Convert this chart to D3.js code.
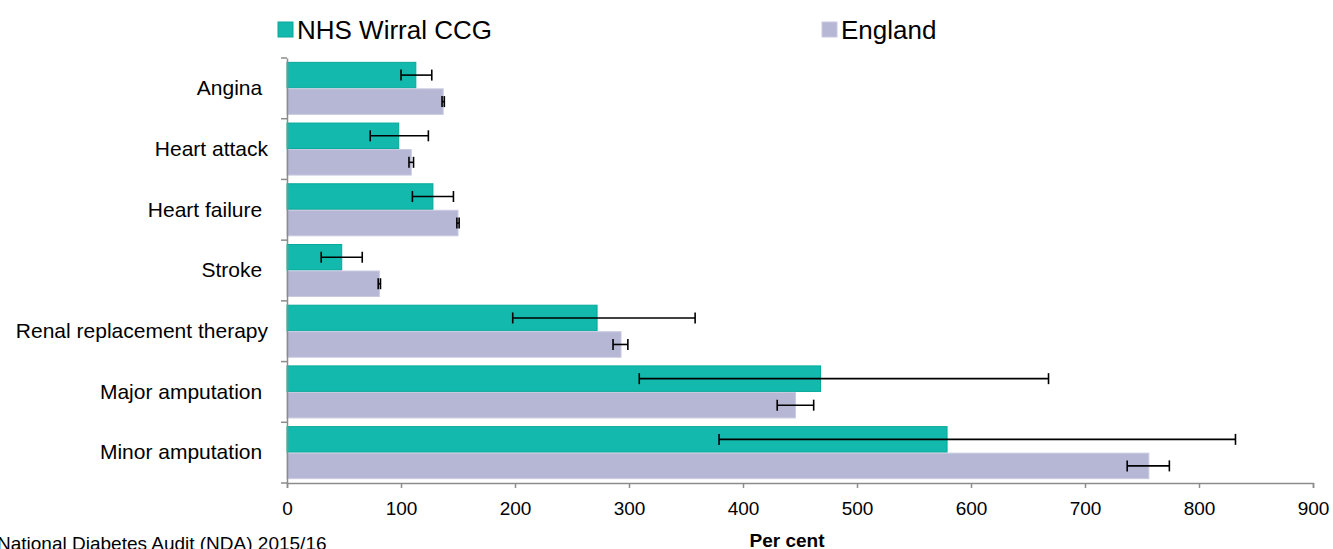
<!DOCTYPE html>
<html>
<head>
<meta charset="utf-8">
<script src="https://cdn.jsdelivr.net/npm/d3@7"></script>
<style>
  body { margin: 0; background: #fff; }
  svg { font-family: "Liberation Sans", Arial, sans-serif; }
  text { white-space: pre; }
</style>
</head>
<body>
<svg id="chart" width="1333" height="549"></svg>
<script>
// =======================================================
// Data
// =======================================================
const categories = [
  "Angina ",
  "Heart attack",
  "Heart failure ",
  "Stroke ",
  "Renal replacement therapy",
  "Major amputation ",
  "Minor amputation ",
];

const seriesNames = ["NHS Wirral CCG", "England"];

const ccgValues = [113, 98, 128, 48, 272, 468, 579];
const ccgLow    = [100, 73, 110, 30, 198, 309, 379];
const ccgHigh   = [127, 124, 146, 66, 358, 668, 832];

const engValues = [137, 109, 150, 81, 293, 446, 756];
const engLow    = [136, 107, 149, 80, 286, 430, 737];
const engHigh   = [138, 111, 151, 82, 299, 462, 774];

const xTicks = [0, 100, 200, 300, 400, 500, 600, 700, 800, 900];

const xTitle = "Per cent";
const sourceNote = "National Diabetes Audit (NDA) 2015/16";

// Estilos
const COLORS = {
  "NHS Wirral CCG": { fill: "#14b9ad", stroke: "#06a899" },
  "England": { fill: "#b6b7d5", stroke: "#c9c9e1" },
};
const AXIS_COLOR = "#8c8c8c";

// =======================================================
// Layout
// =======================================================
const svg = d3.select("#chart");
const M = { left: 287, right: 1313, top: 58, bottom: 483 };

const x = d3.scaleLinear().domain([0, 900]).range([M.left, M.right]);
const y = d3.scaleBand().domain(categories).range([M.top, M.bottom]).padding(0);
const ySub = d3.scaleBand()
  .domain(seriesNames)
  .range([0, y.bandwidth()])
  .paddingInner(0)
  .paddingOuter(0.145);

const rows = categories.map((c, i) => ({
  cat: c,
  bars: [
    { s: seriesNames[0], v: ccgValues[i], lo: ccgLow[i], hi: ccgHigh[i] },
    { s: seriesNames[1], v: engValues[i], lo: engLow[i], hi: engHigh[i] },
  ],
}));

// =======================================================
// Bars
// =======================================================
const gRows = svg.append("g")
  .selectAll("g")
  .data(rows)
  .enter()
  .append("g")
  .attr("transform", d => `translate(0,${y(d.cat)})`);

gRows.selectAll("rect")
  .data(d => d.bars)
  .enter()
  .append("rect")
  .attr("x", x(0))
  .attr("y", d => ySub(d.s) + 0.5)
  .attr("width", d => x(d.v) - x(0))
  .attr("height", ySub.bandwidth() - 1)
  .attr("fill", d => COLORS[d.s].fill)
  .attr("stroke", d => COLORS[d.s].stroke)
  .attr("stroke-width", 1);

// Error bars
const err = gRows.selectAll("g.err")
  .data(d => d.bars)
  .enter()
  .append("g")
  .attr("class", "err")
  .attr("stroke", "#000")
  .attr("stroke-width", 1.6);

const cy = d => ySub(d.s) + ySub.bandwidth() / 2;
const capH = 5.5;

err.append("line")
  .attr("x1", d => x(d.lo)).attr("x2", d => x(d.hi))
  .attr("y1", cy).attr("y2", cy);
err.append("line")
  .attr("x1", d => x(d.lo)).attr("x2", d => x(d.lo))
  .attr("y1", d => cy(d) - capH).attr("y2", d => cy(d) + capH);
err.append("line")
  .attr("x1", d => x(d.hi)).attr("x2", d => x(d.hi))
  .attr("y1", d => cy(d) - capH).attr("y2", d => cy(d) + capH);

// =======================================================
// Axes
// =======================================================
const xAxis = svg.append("g")
  .attr("transform", `translate(0,${M.bottom})`)
  .call(d3.axisBottom(x).tickValues(xTicks).tickSize(5).tickPadding(14).tickSizeOuter(5));
xAxis.select(".domain").attr("stroke", AXIS_COLOR).attr("stroke-width", 1.5);
xAxis.selectAll(".tick line").attr("stroke", AXIS_COLOR).attr("stroke-width", 1.5);
xAxis.selectAll(".tick text")
  .attr("fill", "#000")
  .style("font-size", "19px")
  .style("font-family", "Liberation Sans, Arial, sans-serif");

const yAxis = svg.append("g")
  .attr("transform", `translate(${M.left},0)`)
  .call(d3.axisLeft(y).tickSize(0).tickPadding(19));
yAxis.select(".domain").attr("stroke", AXIS_COLOR).attr("stroke-width", 1.5);
yAxis.selectAll(".tick text")
  .attr("fill", "#000")
  .style("font-size", "21px")
  .style("font-family", "Liberation Sans, Arial, sans-serif");

// ticks between categories
const bounds = categories.map(c => y(c)).concat([M.bottom]);
yAxis.selectAll("line.sep")
  .data(bounds)
  .enter()
  .append("line")
  .attr("class", "sep")
  .attr("x1", -6).attr("x2", 0)
  .attr("y1", d => d).attr("y2", d => d)
  .attr("stroke", AXIS_COLOR)
  .attr("stroke-width", 1.5);

// Axis title
svg.append("text")
  .attr("x", 787)
  .attr("y", 547)
  .attr("text-anchor", "middle")
  .style("font-size", "19px")
  .style("font-weight", "bold")
  .text(xTitle);

// Source note
svg.append("text")
  .attr("x", -3)
  .attr("y", 550)
  .style("font-size", "19px")
  .text(sourceNote);

// =======================================================
// Legend
// =======================================================
const legendPos = [278, 822];
const leg = svg.append("g")
  .selectAll("g")
  .data(seriesNames)
  .enter()
  .append("g")
  .attr("transform", (d, i) => `translate(${legendPos[i]},0)`);

leg.append("rect")
  .attr("x", 0).attr("y", 22)
  .attr("width", 15).attr("height", 15)
  .attr("fill", d => COLORS[d].fill)
  .attr("stroke", d => COLORS[d].stroke);

leg.append("text")
  .attr("x", 19)
  .attr("y", 39)
  .style("font-size", "26px")
  .text(d => d);
</script>
</body>
</html>
